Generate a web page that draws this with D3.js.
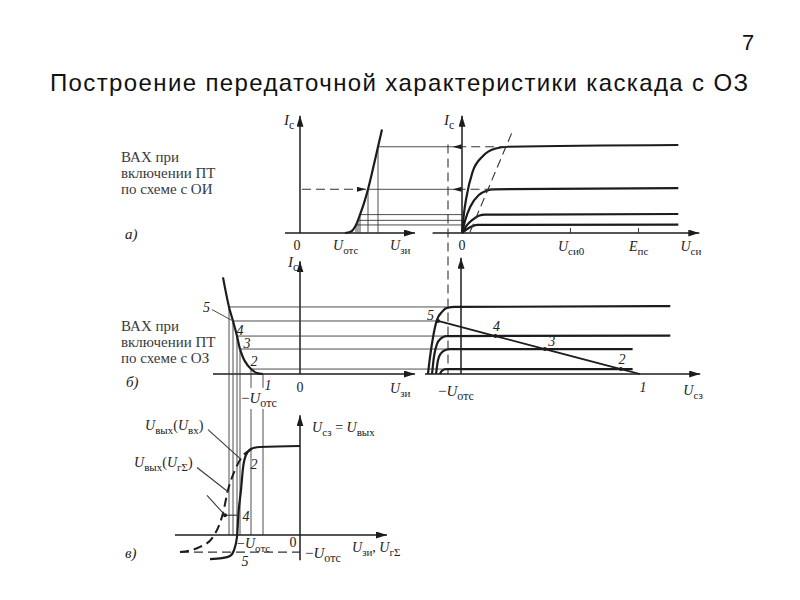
<!DOCTYPE html>
<meta charset="utf-8">
<style>
body { margin: 0; background: #fff; }
svg { font-family: "Liberation Serif", "DejaVu Serif", serif; }
.curve { fill: none; stroke: #1c1c1c; stroke-width: 2.2; }
.thin { fill: none; stroke: #3a3a3a; stroke-width: 0.9; }
.axis { stroke: #1c1c1c; stroke-width: 1.5; }
.dash { fill: none; stroke: #333; stroke-width: 1.1; stroke-dasharray: 9,5; }
.lbl { fill: #222; font-size: 14px; }
.note { fill: #3a3a3a; font-size: 15px; font-family: "Liberation Serif", serif; }
</style>
<body>
<script src="https://cdn.jsdelivr.net/npm/d3@7"></script>
<script>

// а) стоко-затворная характеристика, схема с ОИ (Uзи, Ic)
var transferU = [4.5, 5.0, 5.6, 6.0, 6.4, 6.8, 7.3, 7.8, 8.2];
var transferI = [0, 0.08, 0.7, 1.6, 2.6, 3.8, 5.6, 7.5, 9.0];
var opU = [5.6, 5.8, 6.0, 6.8, 7.8];
var opI = [0.7, 1.1, 1.6, 3.8, 7.5];

// а) выходные характеристики (Uси, Ic)
var outA = [
  [[0, 0], [0.25, 0.35], [0.5, 0.6], [0.75, 0.7], [10.3, 0.73]],
  [[0, 0], [0.2, 0.6], [0.5, 1.15], [0.8, 1.5], [1.1, 1.6], [10.3, 1.65]],
  [[0, 0], [0.15, 1.1], [0.4, 2.3], [0.8, 3.3], [1.2, 3.7], [1.5, 3.8], [10.3, 3.9]],
  [[0, 0], [0.1, 1.8], [0.2, 3.0], [0.5, 5.3], [1.0, 6.7], [1.6, 7.35], [2.2, 7.5], [10.3, 7.65]]
];
var kneeU = [2.2, 1.5], kneeI = [7.5, 3.8];
var satU = [0.38, 2.43], satI = [0.09, 8.96];
var uSi0 = 5.14, ePs = 8.38;

// б) схема с ОЗ (Uзи < 0)
var cgU = [-7.7, -7.1, -6.7, -6.3, -6.0, -5.5, -4.9, -4.3, -3.7];
var cgI = [8.4, 5.83, 4.61, 3.30, 2.17, 1.1, 0.43, 0.08, 0];
var levU = [-7.1, -6.7, -6.3, -6.0, -4.9, -3.7];
var levI = [5.83, 4.61, 3.30, 2.17, 0.43, 0];

// б) выходные характеристики (Uсз, Ic) и нагрузочная прямая
var outB = [
  [[-2.54, 0], [-2.38, 1.5], [-2.15, 3.2], [-1.85, 4.7], [-1.46, 5.4], [-1.08, 5.75], [-0.46, 5.83], [16.1, 5.9]],
  [[-2.23, 0], [-2.08, 1.5], [-1.85, 2.6], [-1.54, 3.1], [-1.15, 3.3], [16.1, 3.34]],
  [[-1.92, 0], [-1.77, 1.2], [-1.54, 1.8], [-1.15, 2.1], [-0.85, 2.17], [13.2, 2.17]],
  [[-1.62, 0], [-1.46, 0.3], [-1.15, 0.43], [13.2, 0.43]]
];
var loadU = [-1.77, 2.65, 6.45, 12.3, 13.77];
var loadI = [4.61, 3.30, 2.17, 0.43, 0];
var uOtsOut = -1;

// в) передаточные характеристики
var outSolid = [[-9.0, -2.67], [-7.8, -2.56], [-7.0, -2.33], [-6.6, -1.67], [-6.3, -0.22], [-6.15, 2.44],
  [-5.9, 5.0], [-5.7, 7.44], [-5.4, 8.89], [-4.9, 9.55], [-4.0, 9.78], [0, 9.89]];
var outDashed = [[-12, -1.89], [-10, -1.33], [-8.7, -0.22], [-7.7, 2.44], [-7.2, 5.0], [-6.5, 7.22],
  [-5.8, 8.67], [-5.0, 9.44], [-4.4, 9.67]];
var outLow = -1.9;
var leaders = [[[-9.2, 11.7], [-5.9, 8.4]], [[-10.3, 7.5], [-7.2, 4.8]], [[-9.3, 4.4], [-7.5, 2.2]]];
var point4 = [[-7.5, 2.2], [-6.2, 2.2]];

var svg = d3.select("body").append("svg")
    .attr("width", 800)
    .attr("height", 600);

var defs = svg.append("defs");
function marker(id, w, h) {
  defs.append("marker")
      .attr("id", id)
      .attr("viewBox", "0 0 " + w + " " + h)
      .attr("refX", w).attr("refY", h / 2)
      .attr("markerWidth", w).attr("markerHeight", h)
      .attr("markerUnits", "userSpaceOnUse")
      .attr("orient", "auto")
    .append("path")
      .attr("d", "M0,0L" + w + "," + (h / 2) + "L0," + h + "Z")
      .attr("fill", "#1c1c1c");
}
marker("arrow", 11, 7);
marker("arrowS", 9, 5);

// scales
var xA1 = d3.scaleLinear().domain([0, 10]).range([300, 400]);
var xA2 = d3.scaleLinear().domain([0, 10]).range([462, 672]);
var yA = d3.scaleLinear().domain([0, 10]).range([233, 118]);
var xB1 = d3.scaleLinear().domain([-10, 0]).range([200, 300]);
var xB2 = d3.scaleLinear().domain([0, 10]).range([461, 591]);
var yB = d3.scaleLinear().domain([0, 10]).range([374, 259]);
var yC = d3.scaleLinear().domain([0, 10]).range([535, 445]);

function seg(cls, x1, y1, x2, y2, mk) {
  var l = svg.append("line").attr("class", cls)
      .attr("x1", x1).attr("y1", y1).attr("x2", x2).attr("y2", y2);
  if (mk) l.attr("marker-end", "url(#" + mk + ")");
  return l;
}
function path(cls, data, x, y, curve) {
  return svg.append("path").datum(data).attr("class", cls)
      .attr("d", d3.line().x(function(d) { return x(d[0]); }).y(function(d) { return y(d[1]); })
        .curve(curve || d3.curveMonotoneX));
}
function label(x, y, parts, anchor, size) {
  size = size || 14;
  var t = svg.append("text").attr("class", "lbl").attr("x", x).attr("y", y)
      .attr("text-anchor", anchor || "start").style("font-size", size + "px");
  var low = false;
  parts.forEach(function(p) {
    var s = t.append("tspan").text(p[0]);
    var wantLow = p[1] === "s";
    if (wantLow !== low) { s.attr("dy", wantLow ? 4 : -4); low = wantLow; }
    if (p[1] === "i") s.style("font-style", "italic");
    if (wantLow) s.style("font-size", Math.round(size * 0.8) + "px");
  });
  return t;
}
function dot(x, y) {
  svg.append("circle").attr("cx", x).attr("cy", y).attr("r", 2).attr("fill", "#1c1c1c");
}

// title
svg.append("text")
    .attr("x", 50).attr("y", 91)
    .attr("textLength", 698)
    .attr("lengthAdjust", "spacing")
    .style("font-family", "'Liberation Sans', Arial, sans-serif")
    .style("font-size", "24px")
    .attr("fill", "#111")
    .text("Построение передаточной характеристики каскада с ОЗ");
svg.append("text").attr("x", 748).attr("y", 50).attr("text-anchor", "middle")
    .style("font-family", "'Liberation Sans', Arial, sans-serif")
    .style("font-size", "22px").attr("fill", "#111").text("7");

// side notes
[["ВАХ при", 162], ["включении ПТ", 178], ["по схеме с ОИ", 194]].forEach(function(d) {
  svg.append("text").attr("class", "note").attr("x", 121).attr("y", d[1]).text(d[0]);
});
[["ВАХ при", 331], ["включении ПТ", 347], ["по схеме с ОЗ", 363]].forEach(function(d) {
  svg.append("text").attr("class", "note").attr("x", 121).attr("y", d[1]).text(d[0]);
});
label(125, 239, [["a)", "i"]], "start", 15);
label(126, 387, [["б)", "i"]], "start", 15);
label(125, 558, [["в)", "i"]], "start", 15);

// ===== а) left
seg("axis", xA1(-1.5), yA(0), xA1(11.5), yA(0), "arrow");
seg("axis", xA1(0), yA(0), xA1(0), yA(10.2), "arrow");
opU.forEach(function(u, i) {
  seg("thin", xA1(u), yA(opI[i]), xA1(u), yA(0));
  if (opI[i] === 3.8) {
    seg("dash", xA1(0.2), yA(opI[i]), xA1(u) - 2, yA(opI[i]), "arrowS");
  }
  seg("thin", xA1(u), yA(opI[i]), xA2(0), yA(opI[i]));
});
path("curve", transferU.map(function(u, i) { return [u, transferI[i]]; }), xA1, yA);
label(xA1(0) - 16, yA(10.2) + 9, [["I", "i"], ["с", "s"]], "start", 15);
label(xA1(0) - 3, 250, [["0"]], "middle");
label(xA1(3.3), 250, [["U", "i"], ["отс", "s"]]);
label(xA1(9.0), 250, [["U", "i"], ["зи", "s"]]);

// ===== а) right
seg("axis", xA2(-1.4), yA(0), xA2(11.3), yA(0), "arrow");
seg("axis", xA2(0), yA(0), xA2(0), yA(10.2), "arrow");
svg.append("g").attr("transform", "translate(0," + yA(0) + ")")
    .call(d3.axisBottom(xA2).tickValues([uSi0, ePs]).tickSize(-5).tickFormat(""))
    .call(function(g) { g.select(".domain").remove(); g.selectAll("line").attr("stroke", "#333"); });
outA.forEach(function(c) { path("curve", c, xA2, yA); });
path("dash", satU.map(function(u, i) { return [u, satI[i]]; }), xA2, yA, d3.curveLinear);
kneeU.forEach(function(u, i) {
  seg("dash", xA2(u), yA(kneeI[i]), xA2(-0.45), yA(kneeI[i]), "arrowS");
});
label(xA2(0) - 18, yA(10.2) + 9, [["I", "i"], ["с", "s"]], "start", 15);
label(xA2(0), 250, [["0"]], "middle");
label(xA2(uSi0) - 12, 251, [["U", "i"], ["си0", "s"]]);
label(xA2(ePs) - 9, 251, [["E", "i"], ["пс", "s"]]);
label(xA2(10.4), 251, [["U", "i"], ["си", "s"]]);

// dashed −Uотс line through а) and б)
seg("dash", xB2(uOtsOut), yA(7.7), xB2(uOtsOut), yB(0));

// ===== б) left
seg("axis", xB1(-8.7), yB(0), xB1(11.5), yB(0), "arrow");
seg("axis", xB1(0), yB(0), xB1(0), yB(9.8), "arrow");
levU.forEach(function(u, i) {
  if (levI[i] > 0) {
    var xEnd = i === 1 ? xB2(loadU[0]) : xB2(-1.1);
    seg("thin", xB1(u), yB(levI[i]), xEnd, yB(levI[i]));
  }
  if (i < 4) {
    seg("thin", xB1(u), yB(levI[i]), xB1(u), yC(0));
  } else {
    seg("thin", xB1(u), yB(levI[i]), xB1(u), yB(-1.2));
    seg("thin", xB1(u), yC(14.0), xB1(u), yC(0));
  }
});
path("curve", cgU.map(function(u, i) { return [u, cgI[i]]; }), xB1, yB, d3.curveCatmullRom);
seg("thin", xB1(-8.8), yB(5.6), xB1(levU[1]), yB(levI[1]));
label(xB1(-9.0), yB(5.4), [["5", "i"]], "end");
label(xB1(-6.0), yB(3.4), [["4", "i"]], "middle");
label(xB1(-5.3), yB(2.3), [["3", "i"]], "middle");
label(xB1(-4.6), yB(0.7), [["2", "i"]], "middle");
label(xB1(-3.2), 390, [["1", "i"]], "middle");
label(xB1(0) - 12, yB(9.8) + 6, [["I", "i"], ["с", "s"]], "start", 15);
label(xB1(0), 392, [["0"]], "middle");
label(xB1(9.0), 393, [["U", "i"], ["зи", "s"]]);
label(xB1(-5.9), 403, [["−"], ["U", "i"], ["отс", "s"]], "start", 15);

// ===== б) right
seg("axis", xB2(-2.77), yB(0), xB2(18.4), yB(0), "arrow");
seg("axis", xB2(0), yB(0), xB2(0), yB(10.1), "arrow");
outB.forEach(function(c) { path("curve", c, xB2, yB); });
svg.append("path").datum(loadU.map(function(u, i) { return [u, loadI[i]]; }))
    .attr("fill", "none").attr("stroke", "#1c1c1c").attr("stroke-width", 1.8)
    .attr("d", d3.line().x(function(d) { return xB2(d[0]); }).y(function(d) { return yB(d[1]); }));
loadU.forEach(function(u, i) {
  if (i < 4) dot(xB2(u), yB(loadI[i]));
});
label(xB2(loadU[0]) - 4, yB(loadI[0]) - 1, [["5", "i"]], "end");
label(xB2(loadU[1]) + 1, yB(loadI[1]) - 5, [["4", "i"]], "middle");
label(xB2(loadU[2]) + 7, yB(loadI[2]) - 3, [["3", "i"]], "middle");
label(xB2(loadU[3]) + 1, yB(loadI[3]) - 5, [["2", "i"]], "middle");
label(xB2(loadU[4]) + 3, 392, [["1", "i"]], "middle");
label(xB2(uOtsOut) - 10, 396, [["−"], ["U", "i"], ["отс", "s"]], "start", 15);
label(xB2(17.1), 395, [["U", "i"], ["сз", "s"]]);

// ===== в)
seg("axis", xB1(-12.5), yC(0), xB1(8.7), yC(0), "arrow");
seg("axis", xB1(0), yC(-2.8), xB1(0), yC(13.3), "arrow");
seg("dash", xB1(-12), yC(outLow), xB1(0), yC(outLow));
path("curve", outSolid, xB1, yC);
path("dash", outDashed, xB1, yC).style("stroke-width", 2).style("stroke", "#1c1c1c");
leaders.forEach(function(l) {
  seg("thin", xB1(l[0][0]), yC(l[0][1]), xB1(l[1][0]), yC(l[1][1])).style("stroke-width", 1.1);
});
seg("thin", xB1(point4[0][0]), yC(point4[0][1]), xB1(point4[1][0]), yC(point4[1][1])).style("stroke-width", 1.2);
dot(xB1(point4[0][0]), yC(point4[0][1]));
label(xB1(-4.6), yC(7.3), [["2", "i"]], "middle");
label(xB1(-5.4), yC(1.6), [["4", "i"]], "middle");
label(xB1(-5.5), 566, [["5", "i"]], "middle");
label(xB1(-6.3), 548, [["−"], ["U", "i"], ["отс", "s"]], "start", 14);
label(xB1(-0.7), 547, [["0"]], "middle");
label(xB1(0.5), 558, [["−"], ["U", "i"], ["отс", "s"]], "start", 15);
label(xB1(5.2), 552, [["U", "i"], ["зи", "s"], [", "], ["U", "i"], ["гΣ", "s"]]);
label(xB1(1.2), 432, [["U", "i"], ["сз", "s"], [" = "], ["U", "i"], ["вых", "s"]]);
label(xB1(-15.5), 430, [["U", "i"], ["вых", "s"], ["("], ["U", "i"], ["вх", "s"], [")"]]);
label(xB1(-16.6), 467, [["U", "i"], ["вых", "s"], ["("], ["U", "i"], ["гΣ", "s"], [")"]]);

</script>
</body>
